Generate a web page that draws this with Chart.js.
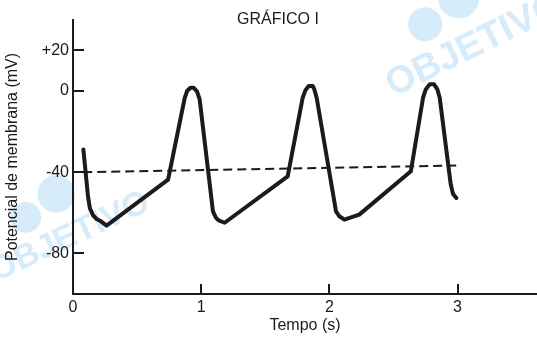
<!DOCTYPE html>
<html>
<head>
<meta charset="utf-8">
<script src="https://cdn.jsdelivr.net/npm/chart.js@4"></script>
<style>
  html, body { margin: 0; padding: 0; background: #fff; }
</style>
</head>
<body>
<canvas id="js--chart" width="537" height="337"></canvas>
<script>
// membrane potential trace (time in s, potential in mV)
const timeS = [
    0.081, 0.117, 0.132, 0.156, 0.187, 0.218, 0.262,
    0.742, 0.872, 0.89, 0.916, 0.942, 0.968, 0.988,
    1.092, 1.113, 1.136, 1.183,
    1.675, 1.792, 1.813, 1.839, 1.87, 1.883, 1.901,
    2.052, 2.078, 2.117, 2.233,
    2.636, 2.731, 2.752, 2.783, 2.817, 2.843, 2.861,
    2.947, 2.965, 2.991
];
const potentialMV = [
    -28.8, -51.9, -57.8, -61.2, -63.2, -64.2, -66.3,
    -43.6, -3.3, 0, 1.6, 1.6, -0.3, -4.1,
    -59.3, -62.2, -63.7, -64.9,
    -42, -3.3, 0.3, 2.5, 2.5, 0.8, -3.3,
    -59.3, -61.7, -63.4, -60.9,
    -39.5, -3.3, 0.8, 3.3, 3.3, 0.8, -3.3,
    -46, -50.7, -52.7
];

// dashed threshold line
const thresholdTimeS = [0.08, 3.0];
const thresholdMV = [-40, -36.7];

const xTicks = [0, 1, 2, 3];
const yTicks = [20, 0, -40, -80];

const fontFamily = "'Liberation Sans', Arial, Helvetica, sans-serif";
const ink = "#1c1a1b";

const toPoints = (xs, ys) => xs.map((x, i) => ({ x: x, y: ys[i] }));

// light blue "OBJETIVO" watermark behind the chart
const watermark = {
    id: "watermark",
    beforeDraw(chart) {
        const ctx = chart.ctx;
        const marks = [
            { x: 393, y: 97, angle: -26, size: 38 },
            { x: -4, y: 282, angle: -25, size: 34 }
        ];
        ctx.save();
        ctx.fillStyle = "#d6ecfb";
        marks.forEach(m => {
            ctx.save();
            ctx.translate(m.x, m.y);
            ctx.rotate(m.angle * Math.PI / 180);
            ctx.font = "bold " + m.size + "px " + fontFamily;
            ctx.textBaseline = "alphabetic";
            ctx.fillText("OBJETIVO", 0, 0);
            // logo above the word
            ctx.beginPath();
            ctx.arc(m.size * 1.6, -m.size * 1.35, m.size * 0.45, 0, Math.PI * 2);
            ctx.fill();
            ctx.beginPath();
            ctx.arc(m.size * 2.7, -m.size * 1.6, m.size * 0.55, 0, Math.PI * 2);
            ctx.fill();
            ctx.restore();
        });
        ctx.restore();
    }
};

// title placed a little right of centre, as in the original
const chartTitle = {
    id: "chartTitle",
    afterDraw(chart) {
        const ctx = chart.ctx;
        ctx.save();
        ctx.fillStyle = ink;
        ctx.font = "16px " + fontFamily;
        ctx.textAlign = "center";
        ctx.textBaseline = "alphabetic";
        ctx.fillText("GRÁFICO I", 278, 24);
        ctx.restore();
    }
};

// short tick marks that point into the plot
const innerTicks = {
    id: "innerTicks",
    afterDraw(chart) {
        const ctx = chart.ctx;
        const xs = chart.scales.x;
        const ys = chart.scales.y;
        ctx.save();
        ctx.strokeStyle = ink;
        ctx.lineWidth = 2;
        ctx.beginPath();
        yTicks.forEach(v => {
            const py = Math.round(ys.getPixelForValue(v));
            ctx.moveTo(xs.left, py);
            ctx.lineTo(xs.left + 11, py);
        });
        xTicks.slice(1).forEach(v => {
            const px = Math.round(xs.getPixelForValue(v));
            ctx.moveTo(px, ys.bottom);
            ctx.lineTo(px, ys.bottom - 10);
        });
        ctx.stroke();
        ctx.restore();
    }
};

const config = {
    type: "line",
    data: {
        datasets: [{
            label: "Potencial",
            data: toPoints(timeS, potentialMV),
            borderColor: ink,
            borderWidth: 4,
            pointRadius: 0,
            tension: 0,
            borderCapStyle: "round",
            borderJoinStyle: "round",
            fill: false
        }, {
            label: "Limiar",
            data: toPoints(thresholdTimeS, thresholdMV),
            borderColor: ink,
            borderWidth: 2,
            borderDash: [9, 5],
            pointRadius: 0,
            fill: false
        }]
    },
    options: {
        responsive: false,
        animation: false,
        layout: { padding: { left: 0, right: 0, top: 20, bottom: 0 } },
        plugins: {
            legend: { display: false },
            tooltip: { enabled: false },
            title: { display: false }
        },
        scales: {
            x: {
                type: "linear",
                min: 0,
                max: 3.62,
                afterBuildTicks: scale => { scale.ticks = xTicks.map(v => ({ value: v })); },
                grid: { display: false, drawTicks: false },
                border: { display: true, color: ink, width: 2 },
                ticks: {
                    color: ink,
                    padding: 4,
                    maxRotation: 0,
                    font: { family: fontFamily, size: 16 }
                },
                title: {
                    display: true,
                    text: "Tempo (s)",
                    color: ink,
                    font: { family: fontFamily, size: 16 },
                    padding: { top: 0, bottom: 2 }
                },
                afterFit: scale => { scale.height = 43; }
            },
            y: {
                type: "linear",
                min: -100,
                max: 35,
                afterBuildTicks: scale => { scale.ticks = yTicks.map(v => ({ value: v })); },
                grid: { display: false, drawTicks: false },
                border: { display: true, color: ink, width: 2 },
                ticks: {
                    color: ink,
                    padding: 4,
                    font: { family: fontFamily, size: 16 },
                    callback: v => (v > 0 ? "+" + v : String(v))
                },
                title: {
                    display: true,
                    text: "Potencial de membrana (mV)",
                    color: ink,
                    font: { family: fontFamily, size: 16 },
                    padding: { top: 3, bottom: 0 }
                },
                afterFit: scale => { scale.width = 73; }
            }
        }
    },
    plugins: [watermark, innerTicks, chartTitle]
};

const membraneChart = new Chart(document.getElementById("js--chart"), config);
</script>
</body>
</html>
